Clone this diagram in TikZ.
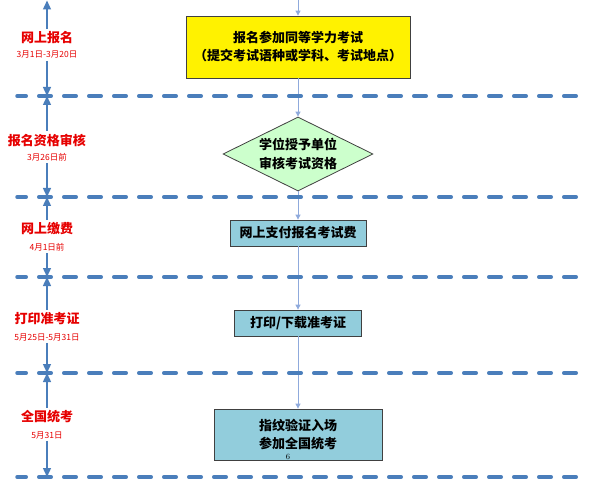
\documentclass[tikz,border=0pt]{standalone}
\usepackage{fontspec}
\newfontfamily\cjk{Noto Sans CJK SC}
\usetikzlibrary{arrows.meta,shapes.geometric}
\definecolor{laneblue}{RGB}{74,126,187}
\definecolor{flowblue}{RGB}{143,170,220}
\definecolor{boxblue}{RGB}{146,205,220}
\definecolor{diagreen}{RGB}{204,255,204}
\definecolor{stagered}{RGB}{230,0,0}
\definecolor{edgegray}{RGB}{64,64,64}
\begin{document}
\begin{tikzpicture}[x=1pt,y=-1pt,
  lane/.style={draw=laneblue, line width=3.5pt, line cap=round, dash pattern=on 12.5pt off 12.5pt, dash phase=3.25pt},
  axisarrow/.style={draw=laneblue, line width=1.4pt, -{Triangle[length=9pt,width=8pt]}},
  flow/.style={draw=flowblue, line width=0.9pt, -{Triangle[length=5pt,width=5pt]}},
  stagelabel/.style={text=stagered, inner sep=2.5pt, font=\cjk\bfseries\fontsize{13}{15}\selectfont},
  datelabel/.style={text=stagered, inner sep=2pt, font=\cjk\fontsize{8.5}{9}\selectfont},
  stepbox/.style={draw=edgegray, line width=0.8pt, align=center, text=black, inner sep=2pt, font=\cjk\bfseries\fontsize{13}{18}\selectfont},
  stepdiamond/.style={diamond, aspect=2, draw=edgegray, line width=0.8pt, fill=diagreen, align=center, inner sep=0pt, font=\cjk\bfseries\fontsize{13}{19}\selectfont}
]
\useasboundingbox (0,0) rectangle (597,489);

% stage labels
\node[stagelabel] (s1) at (47,38) {网上报名};
\node[datelabel]  (d1) at (47,55) {3月1日-3月20日};
\node[stagelabel] (s2) at (47,140) {报名资格审核};
\node[datelabel]  (d2) at (47,157) {3月26日前};
\node[stagelabel] (s3) at (47,229) {网上缴费};
\node[datelabel]  (d3) at (47,247) {4月1日前};
\node[stagelabel] (s4) at (47,319) {打印准考证};
\node[datelabel]  (d4) at (47,337) {5月25日-5月31日};
\node[stagelabel] (s5) at (47,417) {全国统考};
\node[datelabel]  (d5) at (47,435) {5月31日};

% boundary points on the axis
\coordinate (b0) at (47,0.5);
\coordinate (b1) at (47,96);
\coordinate (b2) at (47,197);
\coordinate (b3) at (47,277);
\coordinate (b4) at (47,373);
\coordinate (b5) at (47,477);

% flow nodes
\node[stepbox, fill=yellow, minimum width=224pt, minimum height=62pt] (n1) at (298,47)
  {报名参加同等学力考试\\（提交考试语种或学科、考试地点）};
\node[stepdiamond, minimum width=150pt, minimum height=74pt] (n2) at (298,154)
  {学位授予单位\\审核考试资格};
\node[stepbox, fill=boxblue, minimum width=136pt, minimum height=26pt] (n3) at (298,233)
  {网上支付报名考试费};
\node[stepbox, fill=boxblue, minimum width=127pt, minimum height=26pt] (n4) at (298,323)
  {打印/下载准考证};
\node[stepbox, fill=boxblue, minimum width=168pt, minimum height=51pt] (n5) at (298,434.5)
  {指纹验证入场\\参加全国统考};
\node[inner sep=0pt, font=\fontsize{8}{9}\selectfont] (pg) at (288,456.5) {6};

% flow connectors
\coordinate (f0) at (298,0);
\draw[flow] (f0) -- (n1.north);
\draw[flow] (n1.south) -- (n2.north);
\draw[flow] (n2.south) -- (n3.north);
\draw[flow] (n3.south) -- (n4.north);
\draw[flow] (n4.south) -- (n5.north);

% lane separators
\foreach \yy/\nm in {96/1,197/2,277/3,373/4,477/5}{
  \coordinate (la\nm) at (17,\yy);
  \coordinate (lb\nm) at (580,\yy);
  \draw[lane] (la\nm) -- (lb\nm);
}

% axis arrows
\draw[axisarrow] (s1.north) -- (b0);
\draw[axisarrow] (d1.south) -- (b1);
\draw[axisarrow] (s2.north) -- (b1);
\draw[axisarrow] (d2.south) -- (b2);
\draw[axisarrow] (s3.north) -- (b2);
\draw[axisarrow] (d3.south) -- (b3);
\draw[axisarrow] (s4.north) -- (b3);
\draw[axisarrow] (d4.south) -- (b4);
\draw[axisarrow] (s5.north) -- (b4);
\draw[axisarrow] (d5.south) -- (b5);
\end{tikzpicture}
\end{document}
